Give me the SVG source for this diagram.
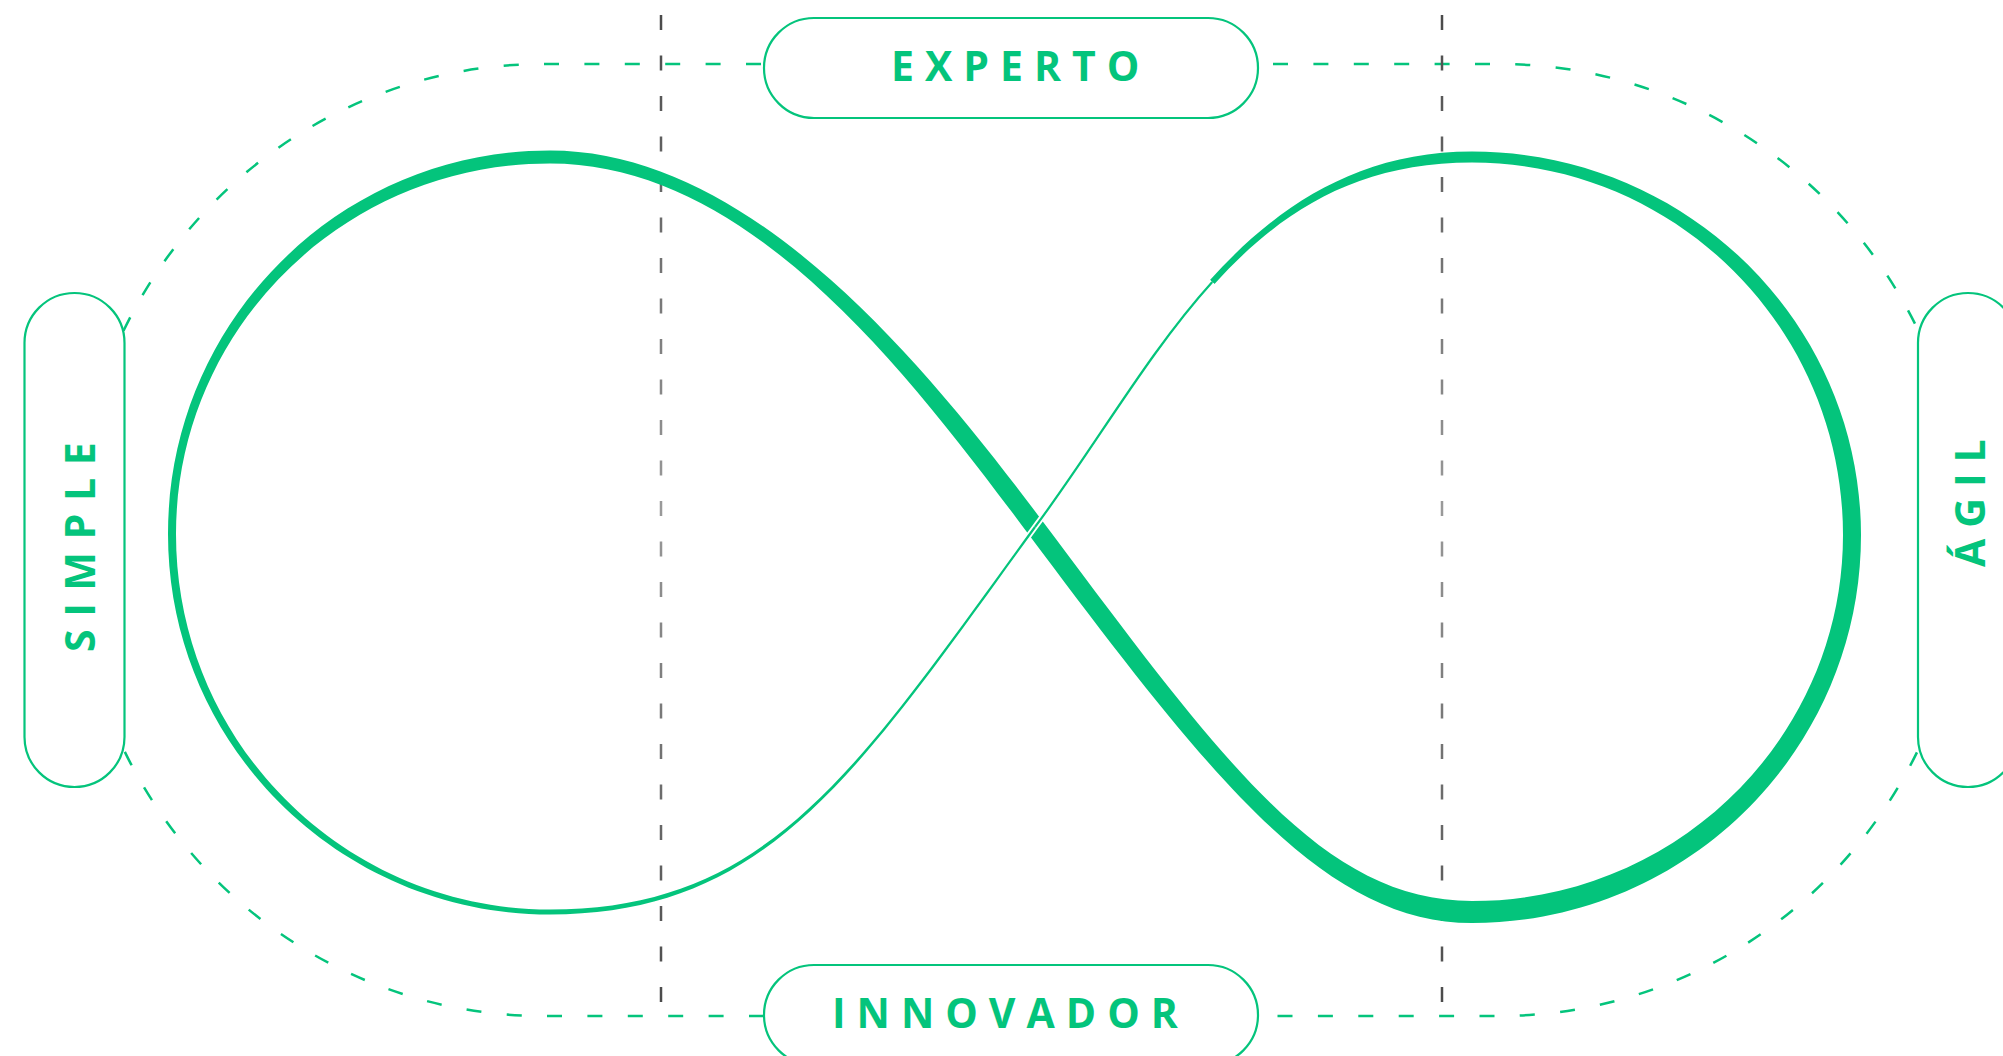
<svg xmlns="http://www.w3.org/2000/svg" width="2003" height="1056" viewBox="0 0 2003 1056">
<defs>
<linearGradient id="gg" gradientUnits="userSpaceOnUse" x1="0" y1="13" x2="0" y2="1003">
<stop offset="0" stop-color="#4a4a4a"/>
<stop offset="0.5" stop-color="#9a9a9a"/>
<stop offset="1" stop-color="#4a4a4a"/>
</linearGradient>
<style>
.pill{fill:#fff;stroke:#04c47c;stroke-width:2.2}
.lbl{font-family:"Open Sans","Liberation Sans",sans-serif;font-weight:700;font-size:41px;fill:#04c47c;letter-spacing:11px}
.loop{fill:none;stroke:#04c47c;stroke-width:2.5;stroke-dasharray:15 25.4}
.guide{fill:none;stroke:url(#gg);stroke-width:2.5;stroke-dasharray:15 25.5}
.inf{fill:#04c47c}
</style>
</defs>
<rect width="2003" height="1056" fill="#fff"/>
<g id="connectors">
<path class="loop" stroke-dashoffset="37.4" d="M 764,64 L 543,64 A 467,476 0 0 0 76,540"/>
<path class="loop" stroke-dashoffset="25.4" d="M 1258,64 L 1499,64 A 467,476 0 0 1 1966,540"/>
<path class="loop" stroke-dashoffset="0" d="M 764,1016 L 543,1016 A 467,476 0 0 1 76,540"/>
<path class="loop" stroke-dashoffset="20.9" d="M 1258,1016 L 1499,1016 A 467,476 0 0 0 1966,540"/>
</g>
<g id="guides">
<line class="guide" x1="661" y1="15" x2="661" y2="1003"/>
<line class="guide" x1="1442" y1="15" x2="1442" y2="1003"/>
</g>
<g id="infinity">
<path class="inf" d="M 550,163.5 C 750,163.5 907.4,372.7 1027.4,532.7 C 1207.4,772.7 1322,923 1472,923 C 1686.8,923 1861,749.3 1861,535 C 1861,323.2 1686.8,151.5 1472,151.5 C 1357,151.5 1275.5,207.5 1210,280 L 1214.5,284 C 1280,211.5 1357,162.5 1472,162.5 C 1676.9,162.5 1843,329.3 1843,535 C 1843,737.1 1676.9,901 1472,901 C 1322,901 1222.6,761.3 1042.6,521.3 C 922.6,361.3 750,150.5 550,150.5 Z"/>
<path d="M 1212.25,282 C 1146.75,354.5 1095,447 1035,527 C 999.6,575.6 967.76,620.16 937.7,660.35" fill="none" stroke="#fff" stroke-width="6"/>
<path d="M 1212.25,282 C 1146.75,354.5 1095,447 1035,527" fill="none" stroke="#04c47c" stroke-width="2.2"/>
<path class="inf" d="M 1034.1,526.35 C 857.1,769.35 770,909.5 550,909.5 C 343.4,909.5 176,741.4 176,534 C 176,329.4 343.4,163.5 550,163.5 L 550,150.5 C 339,150.5 168,322.2 168,534 C 168,744 339,914.5 550,914.5 C 770,914.5 858.9,770.65 1035.9,527.65 Z"/>
</g>
<g id="node-experto">
<rect class="pill" x="764" y="18" width="494" height="100" rx="50"/>
<text class="lbl" x="891" y="81">EXPERTO</text>
</g>
<g id="node-innovador">
<rect class="pill" x="764" y="965" width="494" height="100" rx="50"/>
<text class="lbl" x="832" y="1028">INNOVADOR</text>
</g>
<g id="node-simple">
<rect class="pill" x="24.5" y="293" width="100" height="494" rx="50"/>
<text class="lbl" transform="translate(95,650) rotate(-90)" x="-2" y="0" style="letter-spacing:12.6px">SIMPLE</text>
</g>
<g id="node-agil">
<rect class="pill" x="1918" y="293" width="100" height="494" rx="50"/>
<text class="lbl" transform="translate(1985,565) rotate(-90)" x="-2" y="0">ÁGIL</text>
</g>
</svg>
